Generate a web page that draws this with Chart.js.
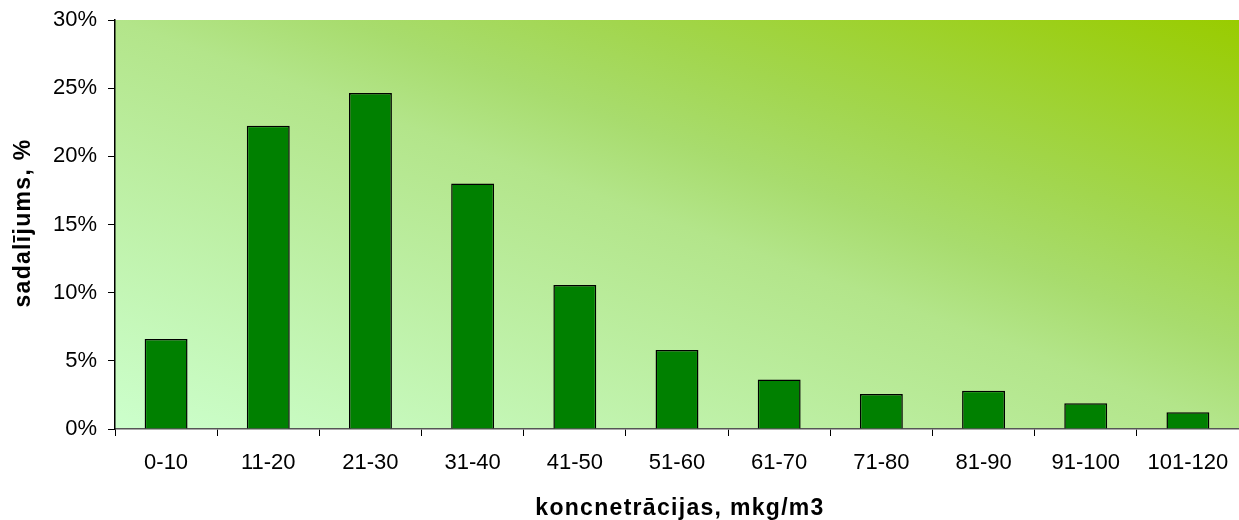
<!DOCTYPE html>
<html>
<head>
<meta charset="utf-8">
<script src="https://cdn.jsdelivr.net/npm/chart.js@4"></script>
<style>
  html, body { margin: 0; padding: 0; background: #fff; }
  #wrap { width: 1239px; height: 520px; }
</style>
</head>
<body>
<div id="wrap"><canvas id="chart"></canvas></div>
<script>
const categories = ['0-10', '11-20', '21-30', '31-40', '41-50', '51-60', '61-70', '71-80', '81-90', '91-100', '101-120'];
const shares = [6.6, 22.25, 24.65, 18.0, 10.56, 5.8, 3.63, 2.57, 2.81, 1.88, 1.22];
const yTicks = [0, 5, 10, 15, 20, 25, 30];
const xTitle = 'koncnetrācijas, mkg/m3';
const yTitle = 'sadalījums, %';

const font = 'Arial, "Liberation Sans", sans-serif';

// diagonal fill behind the plot, light bottom-left to dark top-right
const plotFill = {
    id: 'plotFill',
    beforeDraw(chart) {
        const { ctx, chartArea: a } = chart;
        const w = a.right - a.left, h = a.bottom - a.top;
        const k = 2 * w * h / (w * w + h * h);
        const g = ctx.createLinearGradient(a.left, a.bottom, a.left + h * k, a.bottom - w * k);
        g.addColorStop(0, '#ccffcc');
        g.addColorStop(0.5, '#b3e58a');
        g.addColorStop(0.6, '#a8dc6e');
        g.addColorStop(0.72, '#a2d64e');
        g.addColorStop(1, '#99cc00');
        ctx.save();
        ctx.fillStyle = g;
        ctx.fillRect(a.left, a.top, w, h);
        ctx.restore();
    }
};

// axis titles drawn by hand so they can get the wide letter spacing of the original
const axisTitles = {
    id: 'axisTitles',
    afterDraw(chart) {
        const { ctx, chartArea: a } = chart;
        ctx.save();
        ctx.fillStyle = '#000';
        ctx.font = 'bold 23px ' + font;
        ctx.letterSpacing = '1.3px';
        ctx.textAlign = 'center';
        ctx.textBaseline = 'alphabetic';
        ctx.fillText(xTitle, (a.left + a.right) / 2 + 3, 515);
        ctx.translate(30, 223);
        ctx.rotate(-Math.PI / 2);
        ctx.fillText(yTitle, 0, 0);
        ctx.restore();
    }
};

new Chart(document.getElementById('chart'), {
    type: 'bar',
    data: {
        labels: categories,
        datasets: [{
            data: shares,
            backgroundColor: '#008000',
            borderColor: '#000',
            borderWidth: 1.5,
            categoryPercentage: 1,
            barPercentage: 0.42
        }]
    },
    options: {
        responsive: true,
        maintainAspectRatio: false,
        animation: false,
        layout: { padding: { top: 20, right: 0, left: 0, bottom: 0 } },
        plugins: { legend: { display: false }, tooltip: { enabled: false } },
        scales: {
            x: {
                afterFit(s) { s.height = 91; s.paddingLeft = 0; s.paddingRight = 0; },
                grid: { offset: true, drawOnChartArea: false, color: '#000', tickLength: 7 },
                border: { color: '#555', width: 1.5 },
                ticks: { color: '#000', padding: 14, font: { family: font, size: 22 }, maxRotation: 0 }
            },
            y: {
                min: 0, max: 30,
                afterFit(s) { s.width = 115; s.paddingTop = 0; s.paddingBottom = 0; },
                afterBuildTicks(s) { s.ticks = yTicks.map(v => ({ value: v })); },
                grid: { drawOnChartArea: false, color: '#000', tickLength: 7 },
                border: { color: '#000', width: 1.5 },
                ticks: { color: '#000', padding: 11, font: { family: font, size: 22 }, callback: v => v + '%' }
            }
        }
    },
    plugins: [plotFill, axisTitles]
});
</script>
</body>
</html>
